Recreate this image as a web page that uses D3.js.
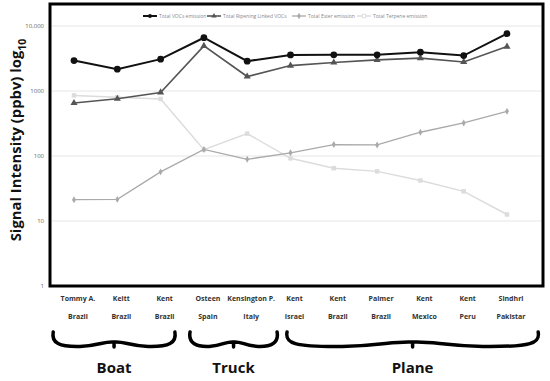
<!DOCTYPE html>
<html>
<head>
  <meta charset="utf-8">
  <title>Signal intensity</title>
  <script src="https://d3js.org/d3.v7.min.js"></script>
  <style>
    body { margin: 0; background: #fff; }
    text { font-family: "Open Sans", "DejaVu Sans", sans-serif; }
  </style>
</head>
<body>
  <div id="chart"></div>

  <script>
    // Daten
    var cultivars = ['Tommy A.', 'Keitt', 'Kent', 'Osteen', 'Kensington P.', 'Kent', 'Kent', 'Palmer', 'Kent', 'Kent', 'Sindhri'];
    var origins = ['Brazil', 'Brazil', 'Brazil', 'Spain', 'Italy', 'Israel', 'Brazil', 'Brazil', 'Mexico', 'Peru', 'Pakistar'];

    var totalVOCs = [2940, 2170, 3090, 6600, 2880, 3590, 3600, 3600, 3950, 3510, 7620];
    var ripeningVOCs = [653, 760, 950, 4940, 1670, 2460, 2740, 3010, 3200, 2800, 4820];
    var esterVOCs = [21.3, 21.5, 57, 126, 89, 112, 150, 148, 232, 323, 486];
    var terpeneVOCs = [855, 800, 754, 125, 221, 92, 65, 58, 42, 28.6, 12.6];

    var yTicks = [1, 10, 100, 1000, 10000];

    // Transportgruppen (Spannweite in Kategorie-Indizes)
    var groups = [
      { name: 'Boat', from: -0.48, to: 2.33 },
      { name: 'Truck', from: 2.68, to: 4.69 },
      { name: 'Plane', from: 4.92, to: 10.72 }
    ];

    var series = [
      { name: 'Total VOCs emission', values: totalVOCs, color: '#111', width: 2, marker: 'circle' },
      { name: 'Total Ripening Linked VOCs', values: ripeningVOCs, color: '#555', width: 1.6, marker: 'triangle' },
      { name: 'Total Ester  emission', values: esterVOCs, color: '#aaa', width: 1.3, marker: 'diamond' },
      { name: 'Total Terpene emission', values: terpeneVOCs, color: '#dcdcdc', width: 1.5, marker: 'square' }
    ];

    var width = 550, height = 381;
    var frame = { left: 50, top: 4, right: 543, bottom: 286 };

    var svg = d3.select('#chart').append('svg')
      .attr('width', width)
      .attr('height', height);

    svg.append('rect').attr('width', width).attr('height', height).attr('fill', '#fff');

    var idx = d3.range(cultivars.length);
    var xScale = d3.scalePoint().domain(idx).range([74, 507]);
    var xLin = d3.scaleLinear().domain([0, cultivars.length - 1]).range([74, 507]);
    var yScale = d3.scaleLog().domain([1, 10000]).range([286, 26]);

    // Gitterlinien
    svg.append('g')
      .selectAll('line')
      .data(yTicks.slice(1))
      .enter().append('line')
        .attr('x1', frame.left + 2)
        .attr('x2', frame.right - 2)
        .attr('y1', function (d) { return yScale(d); })
        .attr('y2', function (d) { return yScale(d); })
        .attr('stroke', '#e6e6e6')
        .attr('stroke-width', 1);

    // y-Achse
    var yAxis = d3.axisLeft(yScale)
      .tickValues(yTicks)
      .tickSize(0)
      .tickPadding(0)
      .tickFormat(function (d) { return d === 10000 ? '10,000' : d3.format('d')(d); });

    var yg = svg.append('g')
      .attr('transform', 'translate(' + (frame.left - 6) + ',0)')
      .call(yAxis);
    yg.select('.domain').remove();
    yg.selectAll('text')
      .attr('fill', '#666')
      .style('font-size', '6px');

    // Rahmen
    svg.append('rect')
      .attr('x', frame.left)
      .attr('y', frame.top)
      .attr('width', frame.right - frame.left)
      .attr('height', frame.bottom - frame.top)
      .attr('fill', 'none')
      .attr('stroke', '#000')
      .attr('stroke-width', 3);

    // Marker
    function symbolType(m) {
      if (m === 'circle') return d3.symbolCircle;
      if (m === 'triangle') return d3.symbolTriangle;
      if (m === 'diamond') return d3.symbolDiamond;
      return d3.symbolSquare;
    }
    var markerSize = { circle: 36, triangle: 22, diamond: 14, square: 20 };

    var line = d3.line()
      .x(function (d, i) { return xScale(i); })
      .y(function (d) { return yScale(d); });

    // Reihenfolge: hellste zuerst
    series.slice().reverse().forEach(function (s) {
      svg.append('path')
        .datum(s.values)
        .attr('fill', 'none')
        .attr('stroke', s.color)
        .attr('stroke-width', s.width)
        .attr('d', line);

      svg.append('g')
        .selectAll('path')
        .data(s.values)
        .enter().append('path')
          .attr('transform', function (d, i) { return 'translate(' + xScale(i) + ',' + yScale(d) + ')'; })
          .attr('d', d3.symbol().type(symbolType(s.marker)).size(markerSize[s.marker])())
          .attr('fill', s.color);
    });

    // Legende
    var legendX = [143, 207, 292, 357];
    var legend = svg.append('g').attr('transform', 'translate(0,16)');
    series.forEach(function (s, i) {
      var g = legend.append('g').attr('transform', 'translate(' + legendX[i] + ',0)');
      g.append('line')
        .attr('x1', 0).attr('x2', 14)
        .attr('stroke', s.color)
        .attr('stroke-width', s.width);
      g.append('path')
        .attr('transform', 'translate(7,0)')
        .attr('d', d3.symbol().type(symbolType(s.marker)).size(12)())
        .attr('fill', s.marker === 'square' ? '#fff' : s.color)
        .attr('stroke', s.marker === 'square' ? s.color : 'none');
      g.append('text')
        .attr('x', 16)
        .attr('y', 2)
        .attr('fill', '#888')
        .style('font-size', '5px')
        .text(s.name);
    });

    // Titel der y-Achse
    var yTitle = svg.append('text')
      .attr('transform', 'translate(21,140) rotate(-90)')
      .attr('text-anchor', 'middle')
      .style('font-size', '14.8px')
      .style('font-weight', 'bold')
      .attr('fill', '#111');
    yTitle.append('tspan').text('Signal Intensity (ppbv) log');
    yTitle.append('tspan').attr('dy', 5).style('font-size', '10.5px').text('10');

    // Kategorien unter der Grafik
    var labels = svg.append('g');
    labels.selectAll('.cult')
      .data(cultivars)
      .enter().append('text')
        .attr('x', function (d, i) { return xScale(i) + 4; })
        .attr('y', 301)
        .attr('text-anchor', 'middle')
        .attr('fill', '#333')
        .style('font-size', '7px')
        .style('font-weight', 'bold')
        .text(function (d) { return d; });
    labels.selectAll('.orig')
      .data(origins)
      .enter().append('text')
        .attr('x', function (d, i) { return xScale(i) + 4; })
        .attr('y', 319)
        .attr('text-anchor', 'middle')
        .attr('fill', '#333')
        .style('font-size', '7px')
        .style('font-weight', 'bold')
        .text(function (d) { return d; });

    // Geschweifte Klammern
    function brace(x0, x1) {
      var w = x1 - x0, xm = (x0 + x1) / 2;
      var y0 = 332, yb = 347, yc = 342;
      var p = d3.path();
      p.moveTo(x0, y0);
      p.bezierCurveTo(x0 - 2, yb - 4, x0 + 6, yb, x0 + 0.22 * w, yb - 0.5);
      p.bezierCurveTo(x0 + 0.38 * w, yb - 1.5, xm - 0.08 * w, yc - 1, xm, yc);
      p.moveTo(x1, y0);
      p.bezierCurveTo(x1 + 2, yb - 4, x1 - 6, yb, x1 - 0.22 * w, yb - 0.5);
      p.bezierCurveTo(x1 - 0.38 * w, yb - 1.5, xm + 0.08 * w, yc - 1, xm, yc);
      p.moveTo(xm, yc);
      p.lineTo(xm, yc + 5);
      return p.toString();
    }

    var gr = svg.append('g');
    groups.forEach(function (g) {
      var x0 = xLin(g.from), x1 = xLin(g.to);
      gr.append('path')
        .attr('d', brace(x0, x1))
        .attr('fill', 'none')
        .attr('stroke', '#000')
        .attr('stroke-width', 3.5)
        .attr('stroke-linecap', 'round');
      gr.append('text')
        .attr('x', (x0 + x1) / 2)
        .attr('y', 373)
        .attr('text-anchor', 'middle')
        .attr('fill', '#111')
        .style('font-size', '15px')
        .style('font-weight', 'bold')
        .text(g.name);
    });
  </script>
</body>
</html>
